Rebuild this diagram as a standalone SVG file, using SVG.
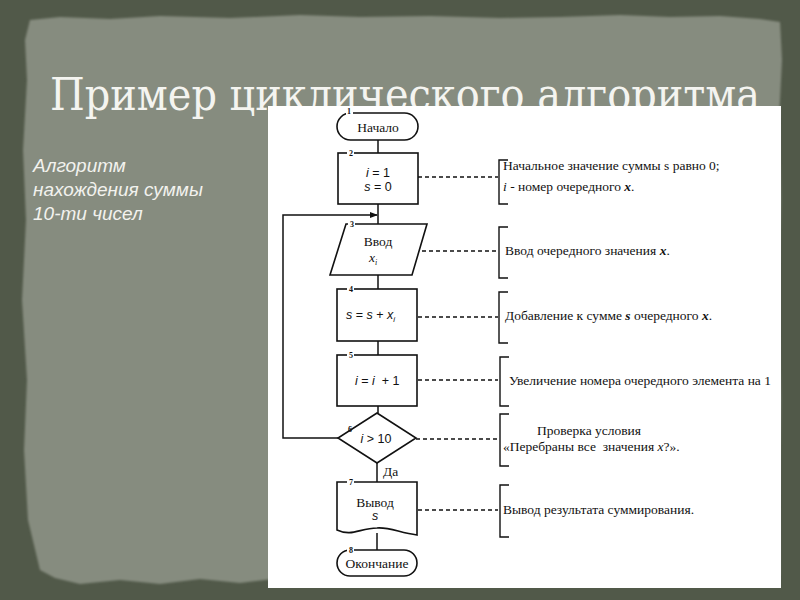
<svg xmlns="http://www.w3.org/2000/svg" width="800" height="600" viewBox="0 0 800 600">
<style>
.bg{fill:#515949}
.panel{fill:#868c7f}
.title{font-family:"DejaVu Serif Condensed","Liberation Serif",serif;font-size:44px;fill:#f4f4f0}
.side{font-family:"Liberation Sans",Arial,sans-serif;font-style:italic;font-size:19px;fill:#f2f2ee}
.shape{fill:#fff;stroke:#111;stroke-width:1.6}
.line{fill:none;stroke:#111;stroke-width:1.5}
.dash{fill:none;stroke:#111;stroke-width:1.3;stroke-dasharray:4 3}
.br{fill:none;stroke:#111;stroke-width:1.4}
.ser{font-family:"Liberation Serif","Times New Roman",serif;font-size:13.5px;fill:#111}
.san{font-family:"Liberation Sans",Arial,sans-serif;font-size:12.5px;fill:#111}
.it{font-style:italic}
.num{font-family:"Liberation Serif",serif;font-size:8px;font-weight:bold;fill:#111}
.nb{fill:#fff}
</style>
<defs>
<marker id="ah" markerWidth="8" markerHeight="6" refX="7" refY="3" orient="auto" markerUnits="userSpaceOnUse">
<path d="M0,0 L8,3 L0,6 z" fill="#111"/>
</marker>
<filter id="soft" x="-5%" y="-5%" width="110%" height="110%"><feGaussianBlur stdDeviation="1.2"/></filter>
</defs>
<rect class="bg" x="0" y="0" width="800" height="600"/>
<path class="panel" filter="url(#soft)" d="M30,20 L60,17 L110,19 L160,16 L230,18 L300,15 L360,17 L430,16 L500,18 L560,17 L620,15 L670,17 L720,16 L760,19 L780,22 L782,60 L779,120 L781,200 L778,300 L781,400 L779,500 L780,575 L720,578 L650,582 L560,578 L480,581 L400,578 L330,580 L290,577 L240,583 L200,579 L160,584 L120,580 L80,584 L55,578 L40,570 L28,520 L24,450 L27,380 L22,300 L26,220 L23,150 L27,80 L25,40 Z"/>
<text class="title" x="50" y="110" textLength="710" lengthAdjust="spacingAndGlyphs">Пример циклического алгоритма</text>
<g id="side-note">
<text class="side" x="33" y="172">Алгоритм</text>
<text class="side" x="33" y="196">нахождения суммы</text>
<text class="side" x="33" y="220">10-ти чисел</text>
</g>
<rect x="268" y="106" width="513" height="482" fill="#fff"/>

<g id="connectors">
<line class="line" x1="378" y1="140" x2="378" y2="153"/>
<line class="line" x1="378" y1="204" x2="378" y2="224"/>
<line class="line" x1="378" y1="275" x2="378" y2="289"/>
<line class="line" x1="378" y1="341" x2="378" y2="355"/>
<line class="line" x1="378" y1="406" x2="378" y2="413"/>
<line class="line" x1="377" y1="463" x2="377" y2="482"/>
<line class="line" x1="377" y1="533" x2="377" y2="550"/>
<polyline class="line" points="338,438 283,438 283,215 377,215" marker-end="url(#ah)"/>
<line class="dash" x1="418" y1="177" x2="498" y2="177"/>
<line class="dash" x1="422" y1="251" x2="498" y2="251"/>
<line class="dash" x1="418" y1="317" x2="498" y2="317"/>
<line class="dash" x1="418" y1="380" x2="498" y2="380"/>
<line class="dash" x1="416" y1="439" x2="498" y2="439"/>
<line class="dash" x1="418" y1="510" x2="498" y2="510"/>
<text class="ser" x="383" y="476">Да</text>
</g>

<g id="n1">
<rect class="shape" x="337" y="113" width="81" height="27" rx="13.5"/>
<rect class="nb" x="346" y="110" width="7" height="5"/>
<text class="num" x="347" y="114">1</text>
<text class="ser" x="378" y="132" text-anchor="middle">Начало</text>
</g>
<g id="n2">
<rect class="shape" x="338" y="153" width="80" height="51"/>
<rect class="nb" x="347" y="150" width="7" height="5"/>
<text class="num" x="349" y="156">2</text>
<text class="san" x="378" y="177" text-anchor="middle"><tspan class="it">i</tspan> = 1</text>
<text class="san" x="378" y="191" text-anchor="middle"><tspan class="it">s</tspan> = 0</text>
</g>
<g id="n3">
<polygon class="shape" points="346,224 427,224 412,275 330,275"/>
<rect class="nb" x="348" y="221" width="7" height="5"/>
<text class="num" x="350" y="227">3</text>
<text class="ser" x="378" y="246" text-anchor="middle">Ввод</text>
<text class="ser it" x="373" y="262" text-anchor="middle">x<tspan font-size="8" dy="3">i</tspan></text>
</g>
<g id="n4">
<rect class="shape" x="337" y="289" width="80" height="52"/>
<rect class="nb" x="347" y="286" width="7" height="5"/>
<text class="num" x="349" y="292">4</text>
<text class="san" x="346" y="319"><tspan class="it">s</tspan> = <tspan class="it">s</tspan> + <tspan class="it">x</tspan><tspan font-size="8" dy="3" class="it">i</tspan></text>
</g>
<g id="n5">
<rect class="shape" x="337" y="355" width="80" height="51"/>
<rect class="nb" x="347" y="352" width="7" height="5"/>
<text class="num" x="349" y="358">5</text>
<text class="san" x="355" y="385" xml:space="preserve"><tspan class="it">i</tspan> = <tspan class="it">i</tspan>  + 1</text>
</g>
<g id="n6">
<polygon class="shape" points="377,413 416,438 377,463 338,438"/>
<text class="num" x="348" y="432">6</text>
<text class="san" x="376" y="443" text-anchor="middle"><tspan class="it">i</tspan> &gt; 10</text>
</g>
<g id="n7">
<path class="shape" d="M337,482 L417,482 L417,535 C400,533 390,527 377,528 C360,528 352,537 337,530 Z"/>
<rect class="nb" x="347" y="479" width="7" height="5"/>
<text class="num" x="349" y="485">7</text>
<text class="ser" x="375" y="507" text-anchor="middle">Вывод</text>
<text class="san it" x="375" y="520" text-anchor="middle">s</text>
</g>
<g id="n8">
<rect class="shape" x="337" y="550" width="80" height="26" rx="13"/>
<rect class="nb" x="347" y="547" width="7" height="5"/>
<text class="num" x="349" y="553">8</text>
<text class="ser" x="377" y="568" text-anchor="middle">Окончание</text>
</g>

<g id="notes">
<path class="br" d="M508,160 L499,160 L499,204 L508,204"/>
<text class="ser" x="503" y="170">Начальное значение суммы s равно 0;</text>
<text class="ser" x="503" y="191"><tspan class="it">i</tspan> - номер очередного <tspan class="it" font-weight="bold">x</tspan>.</text>
<path class="br" d="M508,227 L499,227 L499,278 L508,278"/>
<text class="ser" x="505" y="255">Ввод очередного значения <tspan class="it" font-weight="bold">x</tspan>.</text>
<path class="br" d="M508,292 L499,292 L499,343 L508,343"/>
<text class="ser" x="505" y="320">Добавление к сумме <tspan class="it" font-weight="bold">s</tspan> очередного <tspan class="it" font-weight="bold">x</tspan>.</text>
<path class="br" d="M509,357 L500,357 L500,406 L509,406"/>
<text class="ser" x="509" y="385">Увеличение номера очередного элемента на 1</text>
<path class="br" d="M509,414 L500,414 L500,466 L509,466"/>
<text class="ser" x="537" y="435">Проверка условия</text>
<text class="ser" x="503" y="451" xml:space="preserve">«Перебраны все  значения <tspan class="it">x</tspan>?».</text>
<path class="br" d="M509,485 L500,485 L500,537 L509,537"/>
<text class="ser" x="503" y="514">Вывод результата суммирования.</text>
</g>
</svg>
